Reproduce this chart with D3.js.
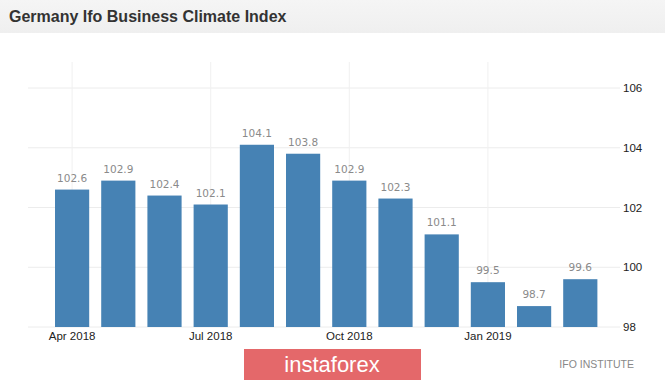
<!DOCTYPE html>
<html><head><meta charset="utf-8">
<script src="https://cdn.jsdelivr.net/npm/d3@7"></script>
<style>body{margin:0;background:#fff}svg{display:block}</style>
</head><body>
<svg id="c" width="665" height="380"></svg>
<script>
const months = ["Apr 2018","May 2018","Jun 2018","Jul 2018","Aug 2018","Sep 2018","Oct 2018","Nov 2018","Dec 2018","Jan 2019","Feb 2019","Mar 2019"];
const values = [102.6,102.9,102.4,102.1,104.1,103.8,102.9,102.3,101.1,99.5,98.7,99.6];
const yTicks = [98,100,102,104,106];
const xTickLabels = ["Apr 2018","Jul 2018","Oct 2018","Jan 2019"];

const svg = d3.select("#c");
// title band
const g0 = svg.append("defs").append("linearGradient").attr("id","tb").attr("x1",0).attr("x2",0).attr("y1",0).attr("y2",1);
g0.append("stop").attr("offset","0").attr("stop-color","#f5f5f5");
g0.append("stop").attr("offset","1").attr("stop-color","#efefef");
svg.append("rect").attr("x",0).attr("y",0).attr("width",665).attr("height",33).attr("fill","url(#tb)");
svg.append("text").attr("x",9).attr("y",22).text("Germany Ifo Business Climate Index")
  .attr("font-family","Liberation Sans, Arial, sans-serif").attr("font-weight","bold").attr("font-size",16).attr("fill","#333");

const x = d3.scaleBand().domain(months).range([43, 609.4]).paddingInner(0.26).paddingOuter(0.26);
const y = d3.scaleLinear().domain([98,106]).range([327,88]);

// horizontal gridlines
svg.append("g").selectAll("line").data(yTicks).join("line")
  .attr("x1",28).attr("x2",620).attr("y1",d=>y(d)).attr("y2",d=>y(d))
  .attr("stroke","#ececec").attr("stroke-width",1);
// vertical gridlines
svg.append("g").selectAll("line").data(xTickLabels).join("line")
  .attr("x1",d=>x(d)+x.bandwidth()/2).attr("x2",d=>x(d)+x.bandwidth()/2)
  .attr("y1",62).attr("y2",327).attr("stroke","#f0f0f0");

// right axis
const ya = d3.axisRight(y).tickValues(yTicks).tickSize(0).tickPadding(3).tickFormat(d3.format("d"));
svg.append("g").attr("transform","translate(620,0)").call(ya)
  .call(g=>g.select(".domain").remove())
  .call(g=>g.selectAll("text").attr("font-family","Liberation Sans, Arial, sans-serif").attr("font-size",11.5).attr("fill","#222"));

// bars
svg.append("g").selectAll("rect").data(values).join("rect")
  .attr("x",(d,i)=>x(months[i])).attr("width",x.bandwidth())
  .attr("y",d=>y(d)).attr("height",d=>y(98)-y(d)).attr("fill","#4682b4");
// value labels
svg.append("g").selectAll("text").data(values).join("text")
  .attr("x",(d,i)=>x(months[i])+x.bandwidth()/2).attr("y",d=>y(d)-8)
  .attr("text-anchor","middle").text(d=>d3.format(".1f")(d))
  .attr("font-family","DejaVu Sans, Verdana, sans-serif").attr("font-size",10.5).attr("fill","#8a8a8a");

// bottom axis
const xa = d3.axisBottom(x).tickValues(xTickLabels).tickSize(0).tickPadding(5);
svg.append("g").attr("transform","translate(0,327)").call(xa)
  .call(g=>g.select(".domain").remove())
  .call(g=>g.selectAll("text").attr("font-family","Liberation Sans, Arial, sans-serif").attr("font-size",11.5).attr("fill","#222"));

// logo
svg.append("rect").attr("x",244).attr("y",349).attr("width",177).attr("height",31).attr("fill","#e4686a");
svg.append("text").attr("x",332).attr("y",372).attr("text-anchor","middle").text("instaforex")
  .attr("font-family","Liberation Sans Narrow, Liberation Sans, Arial, sans-serif").attr("font-size",22).attr("fill","#fff");
svg.append("text").attr("x",634).attr("y",368).attr("text-anchor","end").text("IFO INSTITUTE")
  .attr("font-family","Liberation Sans, Arial, sans-serif").attr("font-size",10.5).attr("fill","#888");
</script>
</body></html>
